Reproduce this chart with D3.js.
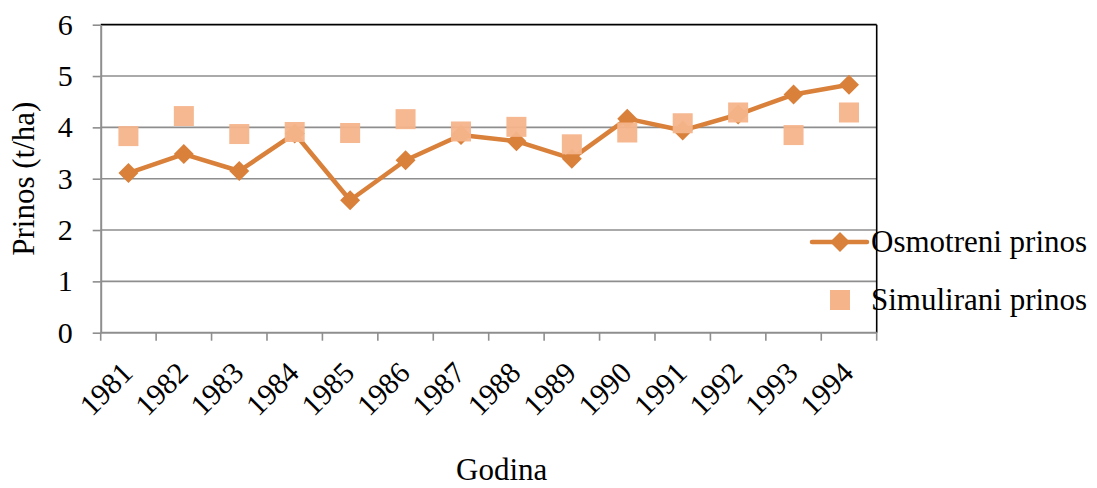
<!DOCTYPE html>
<html>
<head>
<meta charset="utf-8">
<script src="https://cdn.jsdelivr.net/npm/d3@7"></script>
<style>
  html, body { margin: 0; padding: 0; background: #fff; }
  svg text { font-family: 'Liberation Serif', 'DejaVu Serif', serif; fill: #000; }
</style>
</head>
<body>
<svg id="chart" width="1097" height="488"></svg>
<script>
// Yield per year (t/ha): observed vs simulated
const years = ["1981","1982","1983","1984","1985","1986","1987","1988","1989","1990","1991","1992","1993","1994"];
const observed  = [3.11, 3.48, 3.15, 3.88, 2.58, 3.36, 3.85, 3.73, 3.39, 4.17, 3.94, 4.25, 4.64, 4.83];
const simulated = [3.83, 4.22, 3.87, 3.91, 3.89, 4.16, 3.92, 4.01, 3.67, 3.90, 4.08, 4.29, 3.85, 4.29];
const yTicks = [0, 1, 2, 3, 4, 5, 6];
const seriesNames = ["Osmotreni prinos", "Simulirani prinos"];

const serif = "'Liberation Serif', 'DejaVu Serif', serif";
const lineColor = "#D9803A";
const squareColor = "#F6B48B";
const gridColor = "#8E8E8E";

const margin = { left: 100.7, right: 220.3, top: 24.7, bottom: 155.3 };
const W = 1097, H = 488;
const svg = d3.select("#chart");

const x = d3.scaleBand().domain(years).range([margin.left, W - margin.right]);
const y = d3.scaleLinear().domain([0, 6]).range([H - margin.bottom, margin.top]);
const cx = d => x(d) + x.bandwidth() / 2;

// horizontal gridlines
svg.append("g").selectAll("line")
  .data(yTicks.filter(t => t > 0 && t < 6))
  .join("line")
  .attr("x1", margin.left).attr("x2", W - margin.right)
  .attr("y1", d => y(d)).attr("y2", d => y(d))
  .attr("stroke", gridColor).attr("stroke-width", 1.6);

// top and right frame
svg.append("line")
  .attr("x1", margin.left).attr("x2", W - margin.right)
  .attr("y1", y(6)).attr("y2", y(6))
  .attr("stroke", "#000").attr("stroke-width", 1.8);
svg.append("line")
  .attr("x1", W - margin.right).attr("x2", W - margin.right)
  .attr("y1", y(6)).attr("y2", y(0))
  .attr("stroke", "#000").attr("stroke-width", 1.6);

// y axis
const yAxis = svg.append("g")
  .attr("transform", `translate(${margin.left},0)`)
  .call(d3.axisLeft(y).tickValues(yTicks).tickFormat(d3.format("d"))
    .tickSize(8).tickPadding(20).tickSizeOuter(0));
yAxis.attr("font-family", serif).attr("font-size", 30);
yAxis.select(".domain").attr("stroke", gridColor).attr("stroke-width", 2);
yAxis.selectAll(".tick line").attr("stroke", gridColor).attr("stroke-width", 1.6);
yAxis.selectAll(".tick text").attr("fill", "#000");

// x axis: ticks at band boundaries
const xAxisG = svg.append("g").attr("transform", `translate(0,${y(0)})`)
  .attr("font-family", serif);
xAxisG.append("line")
  .attr("x1", margin.left).attr("x2", W - margin.right)
  .attr("stroke", gridColor).attr("stroke-width", 2);
const boundaries = years.map(d => x(d)).concat([x(years[years.length - 1]) + x.bandwidth()]);
xAxisG.selectAll("line.tk").data(boundaries).join("line")
  .attr("class", "tk")
  .attr("x1", d => d).attr("x2", d => d)
  .attr("y1", 0).attr("y2", 8)
  .attr("stroke", gridColor).attr("stroke-width", 1.6);
xAxisG.selectAll("text").data(years).join("text")
  .attr("transform", d => `translate(${cx(d) + 6},42) rotate(-45)`)
  .attr("text-anchor", "end")
  .attr("font-size", 30)
  .text(d => d);

// observed series: line with diamonds
const line = d3.line().x((d, i) => cx(years[i])).y(d => y(d));
svg.append("path")
  .datum(observed)
  .attr("d", line)
  .attr("fill", "none")
  .attr("stroke", lineColor)
  .attr("stroke-width", 4.5)
  .attr("stroke-linejoin", "round");

const diamond = d3.symbol().type(d3.symbolSquare).size(200);
svg.append("g").selectAll("path")
  .data(observed)
  .join("path")
  .attr("d", diamond)
  .attr("transform", (d, i) => `translate(${cx(years[i])},${y(d)}) rotate(45)`)
  .attr("fill", lineColor);

// simulated series: squares
const sq = 20;
svg.append("g").selectAll("rect")
  .data(simulated)
  .join("rect")
  .attr("x", (d, i) => cx(years[i]) - sq / 2)
  .attr("y", d => y(d) - sq / 2)
  .attr("width", sq).attr("height", sq)
  .attr("fill", squareColor)
  .attr("opacity", 0.95);

// axis titles
svg.append("text")
  .attr("transform", `translate(34,${(y(0) + y(6)) / 2}) rotate(-90)`)
  .attr("text-anchor", "middle")
  .attr("font-size", 31)
  .text("Prinos (t/ha)");
svg.append("text")
  .attr("x", (margin.left + W - margin.right) / 2 + 13)
  .attr("y", 480)
  .attr("text-anchor", "middle")
  .attr("font-size", 31)
  .text("Godina");

// legend
const lg = svg.append("g");
lg.append("line")
  .attr("x1", 812).attr("x2", 867).attr("y1", 242).attr("y2", 242)
  .attr("stroke", lineColor).attr("stroke-width", 4.5).attr("stroke-linecap", "round");
lg.append("path").attr("d", diamond)
  .attr("transform", "translate(840,242) rotate(45)")
  .attr("fill", lineColor);
lg.append("text").attr("x", 871).attr("y", 252).attr("font-size", 31).text(seriesNames[0]);
lg.append("rect").attr("x", 830).attr("y", 290).attr("width", sq).attr("height", sq)
  .attr("fill", squareColor);
lg.append("text").attr("x", 871).attr("y", 310).attr("font-size", 31).text(seriesNames[1]);
</script>
</body>
</html>
